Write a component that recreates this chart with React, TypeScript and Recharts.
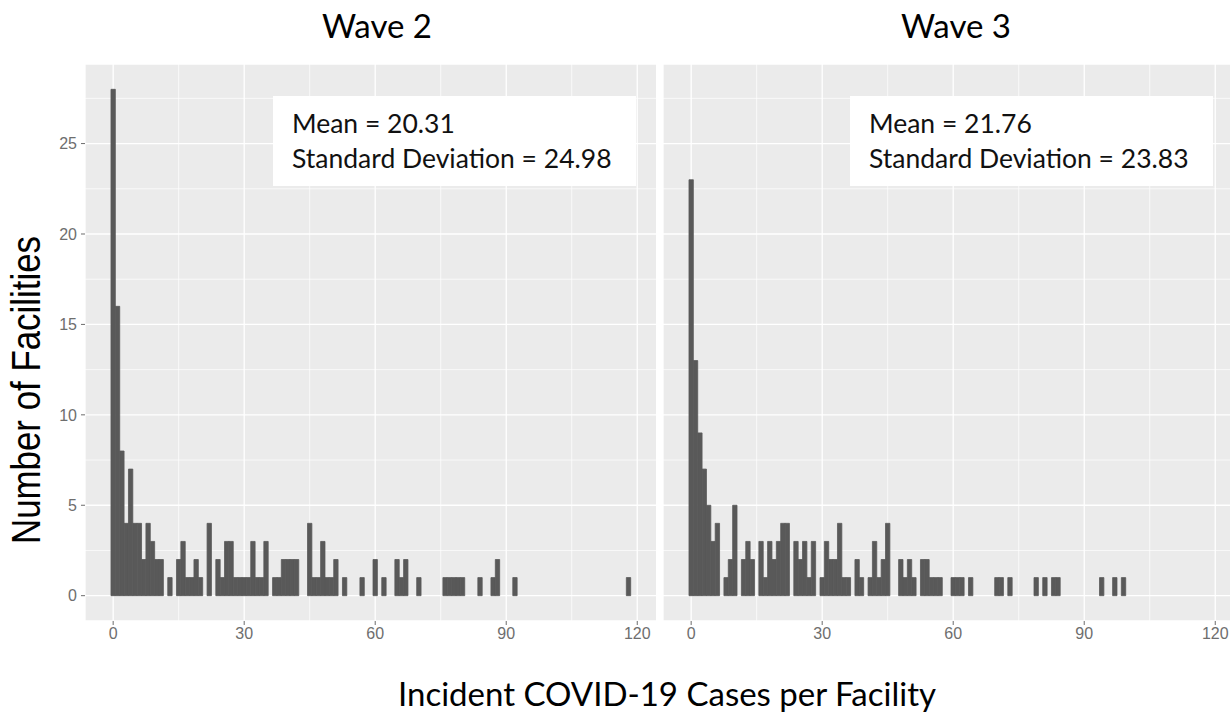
import { BarChart, Bar, XAxis, YAxis, CartesianGrid } from 'recharts';

// counts per integer value of incident cases (bins of width 1, centred on 0..118)
const wave2Counts = [
  28, 16, 8, 4, 7, 4, 4, 2, 4, 3, // 0-9
  2, 2, 0, 1, 0, 2, 3, 1, 1, 2, // 10-19
  1, 0, 4, 0, 2, 1, 3, 3, 1, 1, // 20-29
  1, 1, 3, 1, 1, 3, 0, 1, 1, 2, // 30-39
  2, 2, 2, 0, 0, 4, 1, 1, 3, 1, // 40-49
  1, 2, 0, 1, 0, 0, 0, 1, 0, 0, // 50-59
  2, 0, 1, 0, 0, 2, 1, 2, 0, 0, // 60-69
  1, 0, 0, 0, 0, 0, 1, 1, 1, 1, // 70-79
  1, 0, 0, 0, 1, 0, 0, 1, 2, 0, // 80-89
  0, 0, 1, 0, 0, 0, 0, 0, 0, 0, // 90-99
  0, 0, 0, 0, 0, 0, 0, 0, 0, 0, // 100-109
  0, 0, 0, 0, 0, 0, 0, 0, 1, // 110-118
];

const wave3Counts = [
  23, 13, 9, 7, 5, 3, 4, 0, 1, 2, // 0-9
  5, 0, 2, 3, 2, 0, 3, 1, 3, 2, // 10-19
  3, 4, 4, 0, 3, 2, 3, 1, 3, 0, // 20-29
  1, 3, 2, 2, 4, 1, 1, 0, 2, 1, // 30-39
  0, 1, 3, 1, 2, 4, 0, 0, 2, 1, // 40-49
  2, 1, 0, 2, 2, 1, 1, 1, 0, 0, // 50-59
  1, 1, 1, 0, 1, 0, 0, 0, 0, 0, // 60-69
  1, 1, 0, 1, 0, 0, 0, 0, 0, 1, // 70-79
  0, 1, 0, 1, 1, 0, 0, 0, 0, 0, // 80-89
  0, 0, 0, 0, 1, 0, 0, 1, 0, 1, // 90-99
  0, 0, 0, 0, 0, 0, 0, 0, 0, 0, // 100-109
  0, 0, 0, 0, 0, 0, 0, 0, 0, // 110-118
];

const xTicks = [0, 30, 60, 90, 120];
const xMinor = [15, 45, 75, 105];
const yTicks = [0, 5, 10, 15, 20, 25];
const yMinor = [2.5, 7.5, 12.5, 17.5, 22.5, 27.5];

const panelTitles = ['Wave 2', 'Wave 3'];
const statLines = [
  ['Mean = 20.31', 'Standard Deviation = 24.98'],
  ['Mean = 21.76', 'Standard Deviation = 23.83'],
];

const toRows = (counts: number[]) => counts.map((count, bin) => ({ bin, count }));

const calibriLike = 'Lato, "Open Sans", sans-serif';
const xDomain: [number, number] = [-6.45, 124.45];
const plotW = 571.7;
// one bin wide, a hair under the band so recharts keeps it as is
const binPx = plotW / (xDomain[1] - xDomain[0]) - 0.01;

function Panel({ counts, showY }: { counts: number[]; showY: boolean }) {
  const yW = showY ? 85 : 0;
  return (
    <BarChart
      width={yW + plotW}
      height={660}
      data={toRows(counts)}
      margin={{ top: 64, right: 0, bottom: 9, left: 0 }}
      barCategoryGap={0}
      barGap={0}
    >
      <CartesianGrid fill="#EBEBEB" fillOpacity={1} stroke="#ffffff" strokeWidth={1.3} />
      <CartesianGrid
        horizontalValues={yMinor}
        verticalValues={xMinor}
        stroke="#ffffff"
        strokeWidth={0.7}
      />
      <XAxis
        type="number"
        dataKey="bin"
        domain={xDomain}
        ticks={xTicks}
        allowDataOverflow
        interval={0}
        axisLine={false}
        tickSize={4}
        tickMargin={3}
        tickLine={{ stroke: '#6b6b6b' }}
        tick={{ fill: '#6e6e6e', fontSize: 16, fontFamily: 'Liberation Sans, Arial, sans-serif' }}
        height={30}
      />
      <YAxis
        type="number"
        domain={[-1.4, 29.4]}
        ticks={yTicks}
        allowDataOverflow
        interval={0}
        hide={!showY}
        width={85}
        axisLine={false}
        tickSize={4}
        tickMargin={4}
        tickLine={{ stroke: '#6b6b6b' }}
        tick={{ fill: '#6e6e6e', fontSize: 16, fontFamily: 'Liberation Sans, Arial, sans-serif' }}
      />
      <Bar
        dataKey="count"
        fill="#595959"
        stroke="#595959"
        strokeWidth={0.8}
        barSize={binPx}
        isAnimationActive={false}
      />
    </BarChart>
  );
}

function StatBox({ left, lines }: { left: number; lines: string[] }) {
  return (
    <div
      style={{
        position: 'absolute',
        left,
        top: 96,
        width: 363,
        height: 90,
        background: '#ffffff',
        boxSizing: 'border-box',
        paddingLeft: 19,
        paddingTop: 10,
        fontFamily: calibriLike,
        fontSize: 26.5,
        lineHeight: '35px',
        color: '#111',
        whiteSpace: 'nowrap',
      }}
    >
      {lines.map((l) => (
        <div key={l}>{l}</div>
      ))}
    </div>
  );
}

export default function App() {
  return (
    <div
      style={{
        position: 'absolute',
        left: 0,
        top: 0,
        width: 1230,
        height: 713,
        overflow: 'hidden',
        background: '#ffffff',
      }}
    >
      <div style={{ position: 'absolute', left: 0, top: 0 }}>
        <Panel counts={wave2Counts} showY />
      </div>
      <div style={{ position: 'absolute', left: 663.3, top: 0 }}>
        <Panel counts={wave3Counts} showY={false} />
      </div>

      {panelTitles.map((t, i) => (
        <div
          key={t}
          style={{
            position: 'absolute',
            left: i === 0 ? 377 : 956,
            top: 8.7,
            transform: 'translateX(-50%)',
            fontFamily: calibriLike,
            fontSize: 33,
            lineHeight: '33px',
            color: '#000',
            whiteSpace: 'nowrap',
          }}
        >
          {t}
        </div>
      ))}

      <StatBox left={273} lines={statLines[0]} />
      <StatBox left={850} lines={statLines[1]} />

      <div
        style={{
          position: 'absolute',
          left: 667,
          top: 677,
          transform: 'translateX(-50%)',
          fontFamily: calibriLike,
          fontSize: 33,
          lineHeight: '33px',
          color: '#000',
          whiteSpace: 'nowrap',
        }}
      >
        Incident COVID-19 Cases per Facility
      </div>

      <div
        style={{
          position: 'absolute',
          left: 26,
          top: 390,
          transform: 'translate(-50%, -50%) rotate(-90deg) scaleX(0.85)',
          fontFamily: 'Liberation Sans, Arial, sans-serif',
          fontSize: 41,
          lineHeight: '41px',
          color: '#000',
          whiteSpace: 'nowrap',
        }}
      >
        Number of Facilities
      </div>
    </div>
  );
}
